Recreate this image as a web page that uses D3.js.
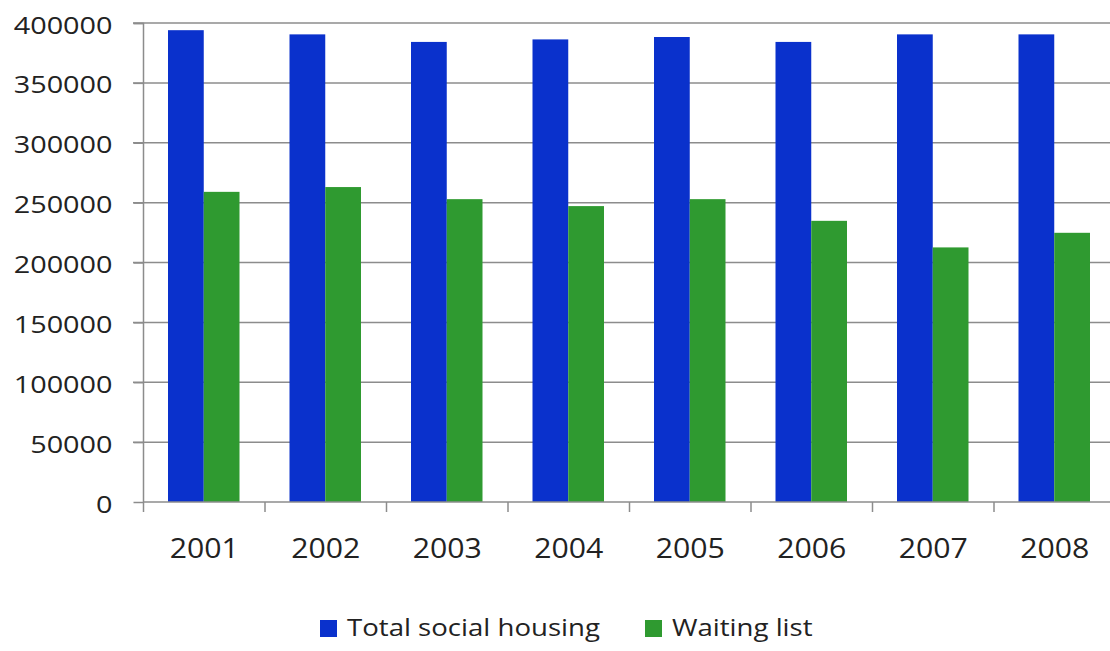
<!DOCTYPE html>
<html>
<head>
<meta charset="utf-8">
<script src="https://cdn.jsdelivr.net/npm/d3@7"></script>
<style>
  body { margin: 0; background: #fff; }
  .lbl { font-family: "Open Sans", sans-serif; font-size: 24px; fill: #222; }
  .xlbl { font-size: 27px; }
</style>
</head>
<body>
<div id="chart"></div>
<script>
// data
var years = ["2001", "2002", "2003", "2004", "2005", "2006", "2007", "2008"];
var totalSocialHousing = [394000, 390500, 384200, 386300, 388300, 384200, 390500, 390500];
var waitingList = [259000, 263000, 252900, 247100, 252900, 234800, 212600, 224800];
var seriesNames = ["Total social housing", "Waiting list"];
var yTicks = [0, 50000, 100000, 150000, 200000, 250000, 300000, 350000, 400000];

var colors = ["#0a31cc", "#2f9a30"];

var svgWidth = 1110;
var svgHeight = 651;

// the source picture is stretched sideways, so text is widened a bit
var ySx = 1.2, xSx = 1.12, legSx = 1.15;

var svg = d3.select("#chart")
  .append("svg")
  .attr("width", svgWidth)
  .attr("height", svgHeight);

// scales
var x0 = d3.scaleBand()
  .domain(years)
  .range([143.5, 1115.5])
  .padding(0);

var x1 = d3.scaleBand()
  .domain(seriesNames)
  .range([24.5, 96]);

var y = d3.scaleLinear()
  .domain([0, 400000])
  .range([502, 23]);

// gridlines
svg.append("g")
  .selectAll("line")
  .data(yTicks.slice(1))
  .enter()
  .append("line")
  .attr("x1", 133)
  .attr("x2", svgWidth)
  .attr("y1", d => y(d))
  .attr("y2", d => y(d))
  .attr("stroke", "#8c8c8c")
  .attr("stroke-width", 1.5);

// y axis
var leftAxis = d3.axisLeft(y)
  .tickValues(yTicks)
  .tickSize(10)
  .tickPadding(31)
  .tickFormat(d3.format("d"));

var yAxis = svg.append("g")
  .attr("transform", "translate(143.5,0)")
  .call(leftAxis);
yAxis.attr("font-family", null).attr("font-size", null);
yAxis.select(".domain").attr("stroke", "#8c8c8c").attr("stroke-width", 1.5).attr("d", "M-10,23.5H0V502");
yAxis.selectAll(".tick line").attr("stroke", "#8c8c8c").attr("stroke-width", 1.5);
yAxis.selectAll("text")
  .attr("class", "lbl")
  .attr("x", -31 / ySx)
  .attr("dy", "0.42em")
  .attr("transform", `scale(${ySx},1)`);

// bars
var data = years.map((yr, i) => ({year: yr, values: [totalSocialHousing[i], waitingList[i]]}));

var groups = svg.append("g")
  .selectAll("g")
  .data(data)
  .enter()
  .append("g")
  .attr("transform", d => `translate(${x0(d.year)},0)`);

groups.selectAll("rect")
  .data(d => d.values.map((v, j) => ({name: seriesNames[j], value: v, j: j})))
  .enter()
  .append("rect")
  .attr("x", d => x1(d.name))
  .attr("width", x1.bandwidth())
  .attr("y", d => y(d.value))
  .attr("height", d => y(0) - y(d.value))
  .attr("fill", d => colors[d.j]);

// x axis
var bottomAxis = d3.axisBottom(x0)
  .tickSize(0)
  .tickPadding(37);

var xAxis = svg.append("g")
  .attr("transform", "translate(0,502)")
  .call(bottomAxis);
xAxis.attr("font-family", null).attr("font-size", null);
xAxis.select(".domain").attr("stroke", "#8c8c8c").attr("stroke-width", 1.5).attr("d", "M143.5,0H" + svgWidth);
xAxis.selectAll("text")
  .attr("class", "lbl xlbl")
  .attr("transform", `scale(${xSx},1)`);

// boundary ticks between categories
svg.append("g")
  .selectAll("line")
  .data(years)
  .enter()
  .append("line")
  .attr("x1", d => x0(d))
  .attr("x2", d => x0(d))
  .attr("y1", 502)
  .attr("y2", 512)
  .attr("stroke", "#8c8c8c")
  .attr("stroke-width", 1.5);

// legend
var legendX = [320, 645];
var legend = svg.append("g")
  .selectAll("g")
  .data(seriesNames)
  .enter()
  .append("g")
  .attr("transform", (d, i) => `translate(${legendX[i]},620)`);

legend.append("rect")
  .attr("width", 17)
  .attr("height", 17)
  .attr("fill", (d, i) => colors[i]);

legend.append("text")
  .attr("class", "lbl")
  .attr("x", 27 / legSx)
  .attr("y", 16)
  .attr("transform", `scale(${legSx},1)`)
  .text(d => d);
</script>
</body>
</html>
